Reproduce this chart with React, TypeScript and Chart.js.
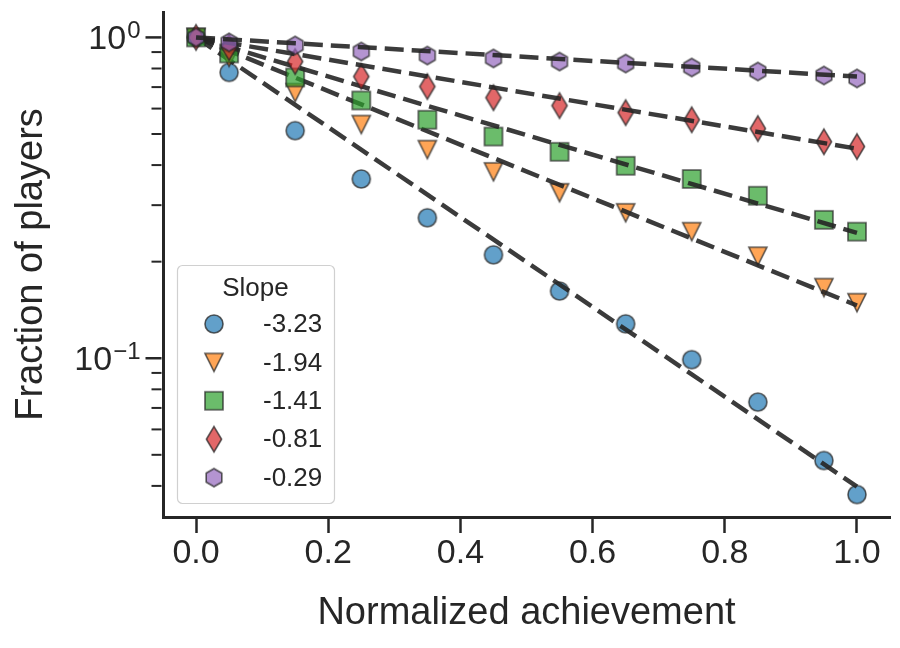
import { useEffect, useRef } from "react";
import { Chart, registerables } from "chart.js";
import { drawPoint } from "chart.js/helpers";

Chart.register(...registerables);

const INK = "#262626";
const FONT = "'Liberation Sans', Arial, Helvetica, sans-serif";

// achievement bins (x) and fraction of players per slope group (y)
const xValues = [0, 0.05, 0.15, 0.25, 0.35, 0.45, 0.55, 0.65, 0.75, 0.85, 0.95, 1.0];
const slopeLabels = ["-3.23", "-1.94", "-1.41", "-0.81", "-0.29"];
const blueValues = [1.0, 0.778, 0.512, 0.362, 0.274, 0.21, 0.162, 0.128, 0.099, 0.073, 0.048, 0.0376];
const orangeValues = [1.0, 0.866, 0.673, 0.535, 0.447, 0.381, 0.328, 0.284, 0.248, 0.208, 0.166, 0.149];
const greenValues = [1.0, 0.891, 0.75, 0.636, 0.554, 0.491, 0.44, 0.398, 0.362, 0.321, 0.27, 0.248];
const redValues = [1.0, 0.93, 0.841, 0.755, 0.703, 0.649, 0.613, 0.583, 0.554, 0.52, 0.473, 0.457];
const purpleValues = [1.0, 0.965, 0.944, 0.904, 0.878, 0.86, 0.841, 0.829, 0.806, 0.783, 0.761, 0.745];

// dashed fit lines: value at x=0 and x=1
const fitX = [0, 1];
const fitStart = [1, 1, 1, 1, 1];
const fitEnd = [0.0398, 0.146, 0.246, 0.45, 0.755];

const xTicks = [0, 0.2, 0.4, 0.6, 0.8, 1.0];
const yMajorTicks = [0.1, 1];
const yMajorExp = ["\u22121", "0"];
const yMinorTicks = [0.04, 0.05, 0.06, 0.07, 0.08, 0.09, 0.2, 0.3, 0.4, 0.5, 0.6, 0.7, 0.8, 0.9];

const series = [blueValues, orangeValues, greenValues, redValues, purpleValues];
const fills = [
  "rgba(31,119,180,0.7)",
  "rgba(255,127,14,0.7)",
  "rgba(44,160,44,0.7)",
  "rgba(214,39,40,0.7)",
  "rgba(148,103,189,0.7)",
];
type Shape = "circle" | "triangleDown" | "square" | "thinDiamond" | "hexagon";
const shapes: Shape[] = ["circle", "triangleDown", "square", "thinDiamond", "hexagon"];

function makeMarker(shape: Shape, fill: string, size = 18) {
  const c = document.createElement("canvas");
  c.width = 32;
  c.height = 32;
  const g = c.getContext("2d")!;
  const m = 16;
  const r = size / 2;
  g.beginPath();
  if (shape === "circle") {
    g.arc(m, m, r, 0, Math.PI * 2);
  } else if (shape === "square") {
    g.rect(m - r, m - r, size, size);
  } else if (shape === "triangleDown") {
    g.moveTo(m - r, m - r);
    g.lineTo(m + r, m - r);
    g.lineTo(m, m + r);
    g.closePath();
  } else if (shape === "thinDiamond") {
    const h = r * 1.41;
    const hw = h * 0.6;
    g.moveTo(m, m - h);
    g.lineTo(m + hw, m);
    g.lineTo(m, m + h);
    g.lineTo(m - hw, m);
    g.closePath();
  } else {
    for (let i = 0; i < 6; i++) {
      const a = -Math.PI / 2 + (i * Math.PI) / 3;
      const px = m + r * Math.cos(a);
      const py = m + r * Math.sin(a);
      if (i === 0) g.moveTo(px, py);
      else g.lineTo(px, py);
    }
    g.closePath();
  }
  g.fillStyle = fill;
  g.fill();
  g.lineWidth = 1.6;
  g.strokeStyle = "rgba(38,38,38,0.75)";
  g.stroke();
  return c;
}

// y ticks (major + minor) and 10^n labels with a raised exponent
const logAxisDecor = {
  id: "logAxisDecor",
  afterDraw(chart: any) {
    const { ctx, chartArea } = chart;
    const y = chart.scales.y;
    const left = chartArea.left - 1.5;
    ctx.save();
    ctx.strokeStyle = INK;
    ctx.lineWidth = 2;
    for (const v of yMinorTicks) {
      const py = y.getPixelForValue(v);
      ctx.beginPath();
      ctx.moveTo(left - 10, py);
      ctx.lineTo(left, py);
      ctx.stroke();
    }
    ctx.lineWidth = 2.5;
    yMajorTicks.forEach((v, i) => {
      const py = y.getPixelForValue(v);
      ctx.beginPath();
      ctx.moveTo(left - 16, py);
      ctx.lineTo(left, py);
      ctx.stroke();

      const right = left - 21;
      ctx.fillStyle = INK;
      ctx.textAlign = "right";
      ctx.textBaseline = "alphabetic";
      ctx.font = `24px ${FONT}`;
      const exp = yMajorExp[i];
      const ew = ctx.measureText(exp).width;
      ctx.fillText(exp, right, py + 1);
      ctx.font = `34px ${FONT}`;
      ctx.fillText("10", right - ew - 1, py + 12);
    });
    ctx.restore();
  },
};

// boxed legend with title, inside the lower-left of the plot
const boxLegend = {
  id: "boxLegend",
  afterDraw(chart: any) {
    const { ctx } = chart;
    const box = { x: 177, y: 265, w: 157, h: 238 };
    ctx.save();
    ctx.beginPath();
    ctx.roundRect(box.x + 0.5, box.y + 0.5, box.w, box.h, 5);
    ctx.fillStyle = "rgba(255,255,255,0.8)";
    ctx.fill();
    ctx.lineWidth = 1.2;
    ctx.strokeStyle = "#d0d0d0";
    ctx.stroke();

    ctx.fillStyle = INK;
    ctx.font = `26px ${FONT}`;
    ctx.textBaseline = "middle";
    ctx.textAlign = "center";
    ctx.fillText("Slope", box.x + box.w / 2, 289);

    ctx.textAlign = "left";
    const sets = chart.data.datasets.filter((d: any) => !d.showLine);
    sets.forEach((d: any, i: number) => {
      const cy = 324 + i * 38.4;
      drawPoint(ctx, { pointStyle: d.pointStyle, rotation: 0, radius: 9, borderWidth: 0 } as any, 214, cy);
      ctx.fillText(d.label, 263, cy + 1);
    });
    ctx.restore();
  },
};

export default function App() {
  const canvasRef = useRef<HTMLCanvasElement>(null);

  useEffect(() => {
    const el = canvasRef.current;
    if (!el) return;

    const markers = shapes.map((s, i) => makeMarker(s, fills[i]));

    const scatterSets = series.map((vals, i) => ({
      label: slopeLabels[i],
      data: xValues.map((x, j) => ({ x, y: vals[j] })),
      pointStyle: markers[i],
      pointRadius: 9,
      pointHoverRadius: 9,
      showLine: false,
      order: 10 - 2 * i,
    }));
    const fitSets = series.map((_, i) => ({
      label: "fit " + slopeLabels[i],
      data: fitX.map((x, j) => ({ x, y: j === 0 ? fitStart[i] : fitEnd[i] })),
      showLine: true,
      borderColor: "rgba(38,38,38,0.9)",
      borderWidth: 4.5,
      borderDash: [19, 8],
      borderCapStyle: "butt",
      pointRadius: 0,
      pointHoverRadius: 0,
      fill: false,
      order: 9 - 2 * i,
    }));

    const chart = new Chart(el, {
      type: "scatter",
      data: { datasets: [...scatterSets, ...fitSets] as any },
      options: {
        animation: false,
        responsive: true,
        maintainAspectRatio: false,
        layout: { padding: { top: 12, right: 10, left: 0, bottom: 0 } },
        plugins: { legend: { display: false }, tooltip: { enabled: false } },
        scales: {
          x: {
            type: "linear",
            min: -0.05,
            max: 1.05,
            afterBuildTicks: (s: any) => {
              s.ticks = xTicks.map((v) => ({ value: v }));
            },
            afterFit: (s: any) => {
              s.height = 131;
            },
            grid: { display: true, drawOnChartArea: false, drawTicks: true, tickLength: 16, tickWidth: 2.5, tickColor: INK },
            border: { display: true, color: INK, width: 3 },
            ticks: {
              color: INK,
              font: { family: FONT, size: 34 },
              padding: 0,
              maxRotation: 0,
              autoSkip: false,
              callback: (v: any) => Number(v).toFixed(1),
            },
            title: {
              display: true,
              text: "Normalized achievement",
              color: INK,
              font: { family: FONT, size: 38 },
              padding: { top: 0, bottom: 12 },
            },
          },
          y: {
            type: "logarithmic",
            min: 0.032,
            max: 1.2,
            afterFit: (s: any) => {
              s.width = 163;
            },
            grid: { display: true, drawOnChartArea: false, drawTicks: false },
            border: { display: true, color: INK, width: 3 },
            ticks: { display: false },
            title: {
              display: true,
              text: "Fraction of players",
              color: INK,
              font: { family: FONT, size: 38 },
              padding: { top: 9, bottom: 0 },
            },
          },
        },
      },
      plugins: [logAxisDecor, boxLegend],
    });

    return () => chart.destroy();
  }, []);

  return (
    <div style={{ position: "absolute", left: 0, top: 0, width: 900, height: 648, background: "#fff" }}>
      <canvas ref={canvasRef} />
    </div>
  );
}
